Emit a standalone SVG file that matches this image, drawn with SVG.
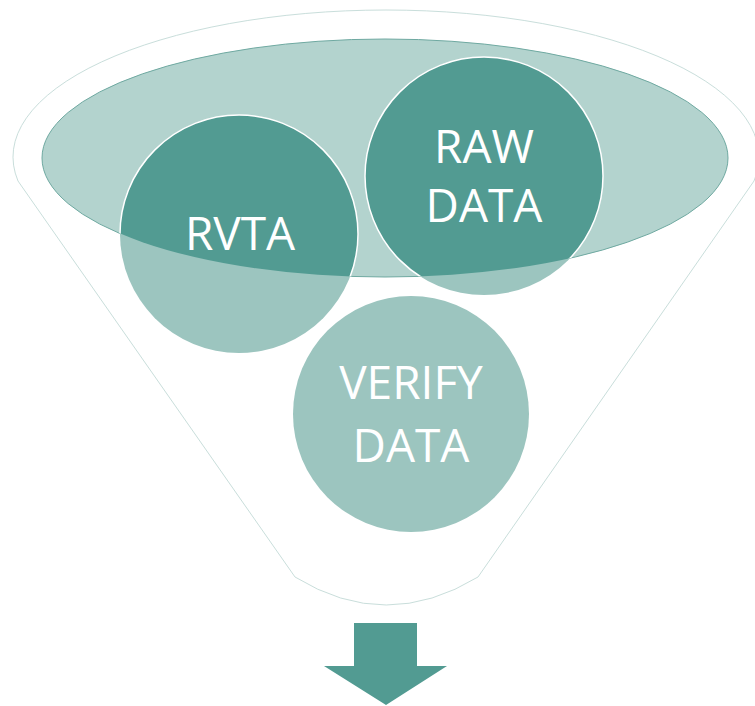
<svg xmlns="http://www.w3.org/2000/svg" width="755" height="706" viewBox="0 0 755 706">
<style>
.lbl{font-family:"Open Sans","Noto Sans","Liberation Sans",sans-serif;font-size:46px;fill:#ffffff;text-anchor:middle}
.light{fill:#9cc5bf}
.dark{fill:#529b92;stroke:#ffffff;stroke-width:1.5}
</style>
<defs>
<clipPath id="topClip"><ellipse cx="385" cy="158" rx="343" ry="119"/></clipPath>
</defs>
<g id="funnel">
<path d="M18,181 A373,147 0 1 1 754,181 L478,577 Q386,633 295,577 Z" fill="#ffffff" stroke="#c9dedb" stroke-width="1"/>
<ellipse cx="385" cy="158" rx="343" ry="119" fill="#b3d3ce" stroke="#6fa9a1" stroke-width="1"/>
</g>
<g id="node-rvta">
<circle class="light" cx="239" cy="234" r="119"/>
<circle class="dark" cx="239" cy="234" r="119" clip-path="url(#topClip)"/>
<text class="lbl" x="240" y="250">RVTA</text>
</g>
<g id="node-raw-data">
<circle class="light" cx="484" cy="176" r="119"/>
<circle class="dark" cx="484" cy="176" r="119" clip-path="url(#topClip)"/>
<text class="lbl" x="484" y="163">RAW</text>
<text class="lbl" x="484" y="222">DATA</text>
</g>
<g id="node-verify-data">
<circle class="light" cx="411" cy="414" r="118"/>
<text class="lbl" x="411" y="399">VERIFY</text>
<text class="lbl" x="411" y="462">DATA</text>
</g>
<g id="connectors">
<polygon points="354,623 417,623 417,666 447,666 386,705 324,666 354,666" fill="#529b92"/>
</g>
</svg>
